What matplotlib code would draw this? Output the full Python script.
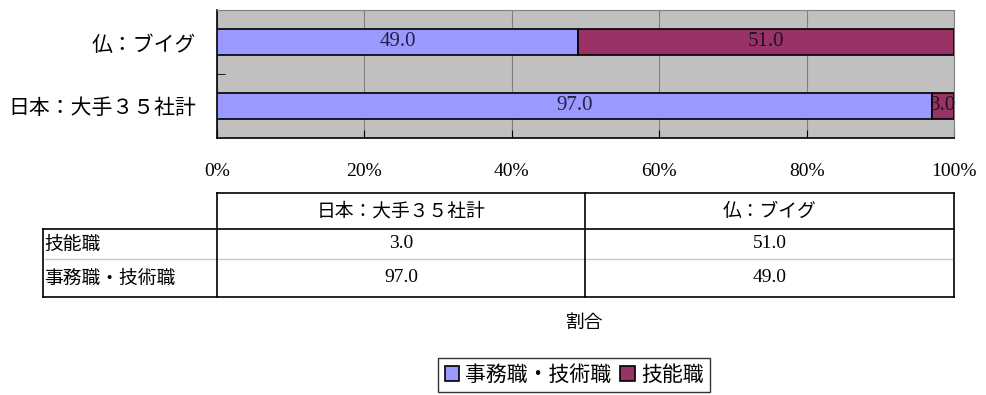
import matplotlib.pyplot as plt
import numpy as np
from matplotlib.lines import Line2D

# data
categories = ['日本：大手３５社計', '仏：ブイグ']
series_names = ['事務職・技術職', '技能職']
office = [97.0, 49.0]
skilled = [3.0, 51.0]
x_ticks = [0, 20, 40, 60, 80, 100]
x_title = '割合'

W, H = 986, 395
JP = ['Noto Sans CJK JP', 'DejaVu Sans']
NUM = ['Liberation Serif', 'DejaVu Serif']
BLUE = '#9999FF'
MAROON = '#993366'

fig = plt.figure(figsize=(W / 100, H / 100), dpi=100)

# bar chart
ax = fig.add_axes([217 / W, 1 - 138 / H, 737 / W, 128 / H])
ax.set_facecolor('#C0C0C0')
y = np.arange(len(categories))
b1 = ax.barh(y, office, height=0.42, color=BLUE, edgecolor='black', lw=1.2,
             label=series_names[0], zorder=3)
b2 = ax.barh(y, skilled, left=office, height=0.42, color=MAROON, edgecolor='black',
             lw=1.2, label=series_names[1], zorder=3)

for i in range(len(categories)):
    ax.text(office[i] / 2, y[i], f'{office[i]:.1f}', ha='center', va='center',
            fontsize=15, family=NUM, color='#222244', zorder=4)
    ax.text(office[i] + skilled[i] / 2, y[i], f'{skilled[i]:.1f}', ha='center',
            va='center', fontsize=15, family=NUM, color='#221122', zorder=4)

ax.set_xlim(0, 100)
ax.set_ylim(-0.5, 1.5)
ax.set_xticks(x_ticks)
ax.set_xticklabels([f'{t}%' for t in x_ticks], family=NUM, fontsize=14)
ax.tick_params(axis='x', direction='in', length=6, pad=18, color='black')
ax.set_yticks(y)
ax.set_yticklabels(categories, family=JP, fontsize=15)
ax.tick_params(axis='y', length=0, pad=15)
ax.set_yticks([0.5], minor=True)
ax.tick_params(axis='y', which='minor', direction='in', length=6, color='black')
ax.grid(axis='x', color='#808080', lw=0.8, zorder=1)
ax.set_axisbelow(True)
for s in ['top', 'right']:
    ax.spines[s].set_color('#808080')
for s in ['left', 'bottom']:
    ax.spines[s].set_color('black')
    ax.spines[s].set_linewidth(1.2)

# data table below the chart (pixel coordinates)
ov = fig.add_axes([0, 0, 1, 1])
ov.set_xlim(0, W)
ov.set_ylim(H, 0)
ov.axis('off')
ov.patch.set_visible(False)

x_left, x_head, x_mid, x_right = 43, 217, 585, 954
y_top, y_head, y_row, y_bot = 193, 229, 259, 297

def line(xs, ys, color='black', lw=1.2):
    ov.add_line(Line2D(xs, ys, color=color, lw=lw))

line([x_head, x_right], [y_top, y_top])
line([x_left, x_right], [y_head, y_head])
line([x_left + 2, x_right - 2], [y_row, y_row], color='#C8C8C8', lw=1)
line([x_left, x_right], [y_bot, y_bot])
line([x_left, x_left], [y_head, y_bot])
line([x_head, x_head], [y_top, y_bot])
line([x_mid, x_mid], [y_top, y_bot])
line([x_right, x_right], [y_top, y_bot])

col_centers = [(x_head + x_mid) / 2, (x_mid + x_right) / 2]
for cx, name in zip(col_centers, categories):
    ov.text(cx, (y_top + y_head) / 2, name, ha='center', va='center',
            family=JP, fontsize=13.5)

rows = [(series_names[1], skilled), (series_names[0], office)]
row_centers = [(y_head + y_row) / 2, (y_row + y_bot) / 2]
for cy, (name, vals) in zip(row_centers, rows):
    ov.text(x_left + 1, cy, name, ha='left', va='center', family=JP, fontsize=13.5)
    for cx, v in zip(col_centers, vals):
        ov.text(cx, cy, f'{v:.1f}', ha='center', va='center', family=NUM, fontsize=14)

ov.text(x_mid, 322, x_title, ha='center', va='center', family=JP, fontsize=13.5)

# legend
leg = fig.legend(handles=[b1, b2], loc='center', bbox_to_anchor=(574 / W, 1 - 375 / H),
                 ncol=2, frameon=True, fancybox=False, edgecolor='black',
                 prop={'family': JP, 'size': 15}, handlelength=0.7,
                 handleheight=0.7, handletextpad=0.3, columnspacing=0.4,
                 borderpad=0.3)
leg.get_frame().set_linewidth(1.0)

fig.savefig('out.png', dpi=100)
